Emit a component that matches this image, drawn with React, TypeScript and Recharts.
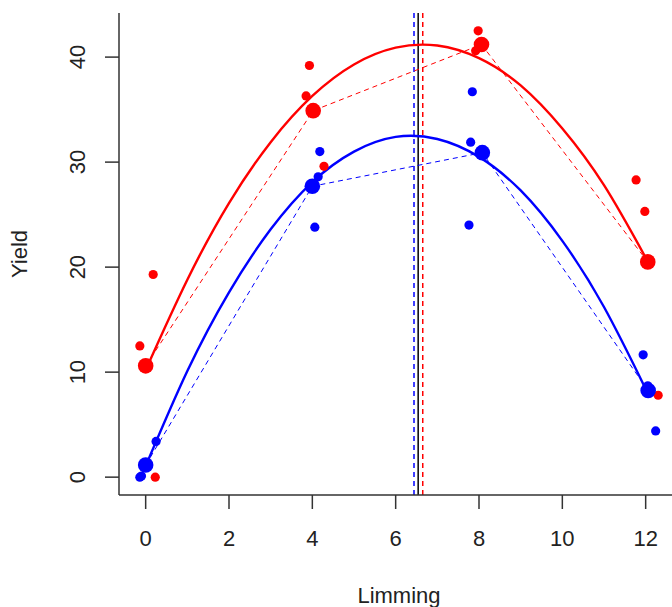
import React from 'react';
import { ComposedChart, Scatter, Line, XAxis, YAxis, ReferenceLine, Label } from 'recharts';

const RED = '#ff0000';
const BLUE = '#0000ff';
const INK = '#222222';
const FONT = '"Liberation Sans", Arial, sans-serif';

const xTicks = [0, 2, 4, 6, 8, 10, 12];
const yTicks = [0, 10, 20, 30, 40];

// replicate observations (3 per liming level)
const redObs = [
  { x: -0.14, y: 12.5 }, { x: 0.18, y: 19.3 }, { x: 0.23, y: 0 },
  { x: 3.93, y: 39.2 }, { x: 3.85, y: 36.3 }, { x: 4.28, y: 29.6 },
  { x: 7.98, y: 42.5 }, { x: 8.0, y: 40.9 }, { x: 7.92, y: 40.6 },
  { x: 11.77, y: 28.3 }, { x: 11.98, y: 25.3 }, { x: 12.3, y: 7.8 },
];
const blueObs = [
  { x: -0.14, y: 0 }, { x: 0.25, y: 3.4 }, { x: -0.1, y: 0.1 },
  { x: 4.18, y: 31.0 }, { x: 4.06, y: 23.8 }, { x: 4.14, y: 28.6 },
  { x: 7.84, y: 36.7 }, { x: 7.8, y: 31.9 }, { x: 7.76, y: 24.0 },
  { x: 11.94, y: 11.65 }, { x: 12.05, y: 8.7 }, { x: 12.24, y: 4.4 },
];

// treatment means
const redMeans = [
  { x: 0, y: 10.6 }, { x: 4.02, y: 34.9 }, { x: 8.06, y: 41.2 }, { x: 12.05, y: 20.5 },
];
const blueMeans = [
  { x: 0, y: 1.15 }, { x: 4.0, y: 27.7 }, { x: 8.08, y: 30.9 }, { x: 12.06, y: 8.25 },
];

// quadratic fit curves, read at each unit of liming
const fitX = [0, 1, 2, 3, 4, 5, 6, 7, 8, 9, 10, 11, 12];
const redFitY = [10.2, 18.8, 26.1, 31.9, 36.3, 39.3, 40.9, 41.1, 39.9, 37.3, 33.2, 27.8, 20.9];
const blueFitY = [1.05, 10.1, 17.6, 23.6, 28.1, 31.0, 32.4, 32.2, 30.5, 27.3, 22.5, 16.2, 8.4];

// x of the fitted maxima
const bluePeak = 6.44;
const overallPeak = 6.54;
const redPeak = 6.65;

const redFit = fitX.map((x, i) => ({ x, y: redFitY[i] }));
const blueFit = fitX.map((x, i) => ({ x, y: blueFitY[i] }));

const dot = (r: number, color: string) => (props: any) =>
  <circle cx={props.cx} cy={props.cy} r={r} fill={color} stroke="none" />;

const XTick = ({ x, y, payload }: any) => (
  <text x={x} y={y + 35} textAnchor="middle" fontSize={22} fontFamily={FONT} fill={INK}>
    {payload.value}
  </text>
);

const YTick = ({ x, y, payload }: any) => (
  <text
    x={0}
    y={0}
    transform={`translate(${x - 18},${y}) rotate(-90)`}
    textAnchor="middle"
    fontSize={22}
    fontFamily={FONT}
    fill={INK}
  >
    {payload.value}
  </text>
);

export default function App() {
  return (
    <div style={{ position: 'absolute', left: 0, top: 0, width: 672, height: 607, overflow: 'hidden', background: '#fff' }}>
      <ComposedChart width={679} height={607} margin={{ top: 13, right: 0, bottom: 0, left: 0 }}>
        <XAxis
          xAxisId={0}
          type="number"
          dataKey="x"
          domain={[-0.64, 12.8]}
          ticks={xTicks}
          allowDataOverflow
          height={112}
          tickSize={14}
          stroke="#333"
          strokeWidth={1.5}
          tick={<XTick />}
        >
          <Label
            content={({ viewBox }: any) => (
              <text x={viewBox.x + viewBox.width / 2} y={603} textAnchor="middle" fontSize={22} fontFamily={FONT} fill={INK}>
                Limming
              </text>
            )}
          />
        </XAxis>
        <XAxis xAxisId="top" orientation="top" type="number" domain={[-0.64, 12.8]} height={0} tick={false} tickLine={false} stroke="#333" strokeWidth={1.5} />
        <YAxis
          yAxisId={0}
          type="number"
          domain={[-1.7, 44.2]}
          ticks={yTicks}
          allowDataOverflow
          width={119}
          tickSize={14}
          stroke="#333"
          strokeWidth={1.5}
          tick={<YTick />}
        >
          <Label
            content={({ viewBox }: any) => (
              <text
                x={0}
                y={0}
                transform={`translate(27,${viewBox.y + viewBox.height / 2}) rotate(-90)`}
                textAnchor="middle"
                fontSize={22}
                fontFamily={FONT}
                fill={INK}
              >
                Yield
              </text>
            )}
          />
        </YAxis>
        <YAxis yAxisId="right" orientation="right" type="number" domain={[-1.7, 44.2]} width={0} tick={false} tickLine={false} stroke="#333" strokeWidth={1.5} />

        <ReferenceLine x={bluePeak} stroke={BLUE} strokeWidth={1.5} strokeDasharray="5 4" />
        <ReferenceLine x={overallPeak} stroke="#000" strokeWidth={1.5} />
        <ReferenceLine x={redPeak} stroke={RED} strokeWidth={1.5} strokeDasharray="5 4" />

        <Line data={redMeans} dataKey="y" type="linear" stroke={RED} strokeWidth={1} strokeDasharray="5 4" dot={false} activeDot={false} isAnimationActive={false} />
        <Line data={blueMeans} dataKey="y" type="linear" stroke={BLUE} strokeWidth={1} strokeDasharray="5 4" dot={false} activeDot={false} isAnimationActive={false} />
        <Line data={redFit} dataKey="y" type="natural" stroke={RED} strokeWidth={2.4} dot={false} activeDot={false} isAnimationActive={false} />
        <Line data={blueFit} dataKey="y" type="natural" stroke={BLUE} strokeWidth={2.4} dot={false} activeDot={false} isAnimationActive={false} />

        <Scatter data={redObs} dataKey="y" shape={dot(4.6, RED)} isAnimationActive={false} />
        <Scatter data={blueObs} dataKey="y" shape={dot(4.6, BLUE)} isAnimationActive={false} />
        <Scatter data={redMeans} dataKey="y" shape={dot(7.8, RED)} isAnimationActive={false} />
        <Scatter data={blueMeans} dataKey="y" shape={dot(7.8, BLUE)} isAnimationActive={false} />
      </ComposedChart>
    </div>
  );
}
